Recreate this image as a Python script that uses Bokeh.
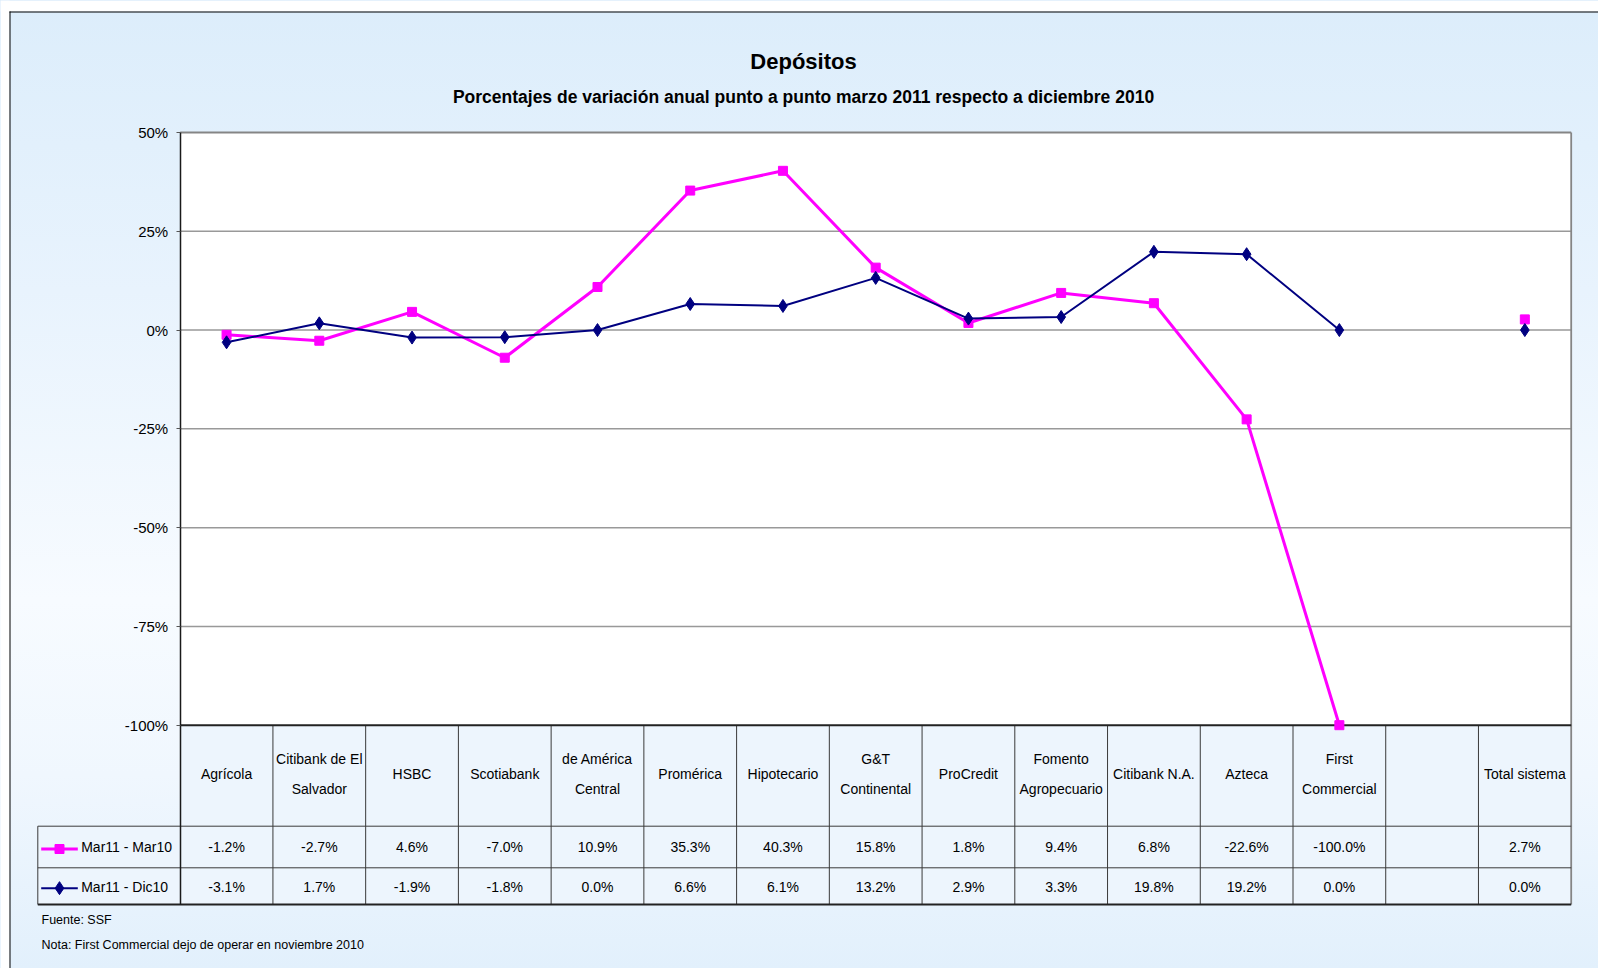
from bokeh.plotting import figure
from bokeh.models import Range1d, FixedTicker, PrintfTickFormatter, LinearAxis
from bokeh.core.properties import value
from bokeh.embed import file_html
from bokeh.resources import INLINE

# ---------------- data ----------------
categories = ["Agrícola", "Citibank de El\nSalvador", "HSBC", "Scotiabank", "de América\nCentral",
              "Promérica", "Hipotecario", "G&T\nContinental", "ProCredit", "Fomento\nAgropecuario",
              "Citibank N.A.", "Azteca", "First\nCommercial", "", "Total sistema"]
mar11_mar10 = [-1.2, -2.7, 4.6, -7.0, 10.9, 35.3, 40.3, 15.8, 1.8, 9.4, 6.8, -22.6, -100.0, None, 2.7]
mar11_dic10 = [-3.1, 1.7, -1.9, -1.8, 0.0, 6.6, 6.1, 13.2, 2.9, 3.3, 19.8, 19.2, 0.0, None, 0.0]
series_names = ["Mar11 - Mar10", "Mar11 - Dic10"]
y_ticks = [-100, -75, -50, -25, 0, 25, 50]

title_text = "Depósitos"
subtitle_text = "Porcentajes de variación anual punto a punto marzo 2011 respecto a diciembre 2010"
notes = ["Fuente: SSF", "Nota: First Commercial dejo de operar en noviembre 2010"]

# ---------------- layout (pixels) / style ----------------
FONT = "Liberation Sans"
PINK, NAVY = "#FF00FF", "#000080"
W, H = 1598, 968
X0, X1 = 179.7, 1570.7            # plot area left / right
Y_TOP, Y_BOT = 132.0, 724.7       # top tick / bottom tick
HEAD_B, ROW1_B, ROW2_B = 825.7, 867.3, 904.0
LEG_L = 37.3
BX, BY = 9.5, 11.5                # outer border

n = len(categories)
y_hi, y_lo = max(y_ticks), min(y_ticks)
pxc = (X1 - X0) / n
ppu = (Y_BOT - Y_TOP) / (y_hi - y_lo)


def dx(px):
    return (px - X0) / pxc - 0.5


def dy(py):
    return y_hi - (py - Y_TOP) / ppu


xs = list(range(n))
s1 = [float("nan") if v is None else v for v in mar11_mar10]
s2 = [float("nan") if v is None else v for v in mar11_dic10]
xl, xr = -0.5, n - 0.5

p = figure(width=W, height=H, output_backend="svg", toolbar_location=None,
           x_range=Range1d(dx(0), dx(W)), y_range=Range1d(dy(H), dy(0)),
           x_axis_location=None, y_axis_location=None, title=None,
           min_border=0, min_border_left=0, min_border_right=0,
           min_border_top=0, min_border_bottom=0,
           styles={"background": "linear-gradient(to bottom, #DCEDFB 0%, #E8F3FD 30%, #F7FBFF 62%, #F0F7FE 80%, #E2F0FC 100%)"})
p.border_fill_alpha = 0
p.background_fill_alpha = 0
p.outline_line_color = None
p.xgrid.visible = False
p.ygrid.visible = False

# page margin strips and outer border
p.quad(left=dx(0), right=dx(BX - 0.5), bottom=dy(H), top=dy(0), fill_color="white", line_color=None)
p.quad(left=dx(0), right=dx(W), bottom=dy(BY - 0.5), top=dy(0), fill_color="white", line_color=None)
p.segment(x0=[dx(BX), dx(BX - 0.5)], y0=[dy(BY - 0.5), dy(BY)], x1=[dx(BX), dx(W)], y1=[dy(H), dy(BY)],
          line_color="#000000", line_width=1)

# plot area and table backgrounds
p.quad(left=xl, right=xr, bottom=y_lo, top=y_hi, fill_color="white", line_color=None)
p.quad(left=xl, right=xr, bottom=dy(ROW2_B), top=y_lo, fill_color="#EDF5FD", line_color=None)
p.quad(left=dx(LEG_L), right=xl, bottom=dy(ROW2_B), top=dy(HEAD_B), fill_color="#EDF5FD", line_color=None)

# gridlines
grid_y = [t for t in y_ticks if t not in (y_lo, y_hi)]
p.segment(x0=[xl] * len(grid_y), y0=grid_y, x1=[xr] * len(grid_y), y1=grid_y,
          line_color="#999999", line_width=1.5)
p.segment(x0=[xl, xr], y0=[y_hi, y_hi], x1=[xr, xr], y1=[y_hi, dy(ROW2_B)],
          line_color="#858585", line_width=1.8)

# table grid
bounds = [i + 0.5 for i in range(n - 1)]
p.segment(x0=bounds, y0=[y_lo] * len(bounds), x1=bounds, y1=[dy(ROW2_B)] * len(bounds),
          line_color="#3A3A3A", line_width=1)
p.segment(x0=[dx(LEG_L)] * 3, y0=[dy(HEAD_B), dy(ROW1_B), dy(HEAD_B)],
          x1=[xr, xr, dx(LEG_L)], y1=[dy(HEAD_B), dy(ROW1_B), dy(ROW2_B)],
          line_color="#3A3A3A", line_width=1)
p.segment(x0=[xl, dx(LEG_L)], y0=[y_lo, dy(ROW2_B)], x1=[xr, xr], y1=[y_lo, dy(ROW2_B)],
          line_color="#222222", line_width=2)

# series
p.line(xs, s1, line_color=PINK, line_width=3)
p.scatter(xs, s1, marker="square", size=9, fill_color=PINK, line_color=PINK)
p.line(xs, s2, line_color=NAVY, line_width=2)
p.scatter(xs, s2, marker="diamond", size=13, fill_color=NAVY, line_color=NAVY)

# y axis at the plot area's left edge
yaxis = LinearAxis(fixed_location=xl, bounds=(dy(ROW2_B), y_hi),
                   ticker=FixedTicker(ticks=y_ticks), formatter=PrintfTickFormatter(format="%d%%"))
yaxis.major_label_text_font = FONT
yaxis.major_label_text_font_size = "15px"
yaxis.major_label_text_color = "#000000"
yaxis.axis_line_color = "#1A1A1A"
yaxis.axis_line_width = 1.5
yaxis.major_tick_out = 4
yaxis.major_tick_in = 0
yaxis.major_tick_line_color = "#555555"
yaxis.minor_tick_out = 0
yaxis.minor_tick_in = 0
yaxis.major_label_standoff = 8
p.add_layout(yaxis, "left")

# table texts
fmt = lambda v: "" if v is None else f"{v:.1f}%"
TS = "14px"
p.text(x=xs, y=[(y_lo + dy(HEAD_B)) / 2 + 1.5 / ppu] * n, text=categories, text_align="center",
       text_baseline="middle", text_font=value(FONT), text_font_size=TS,
       text_line_height=1.84, text_color="#000000")
row1_y = dy((HEAD_B + ROW1_B) / 2)
row2_y = dy((ROW1_B + ROW2_B) / 2 + 0.5)
p.text(x=xs, y=[row1_y] * n, text=[fmt(v) for v in mar11_mar10], text_align="center",
       text_baseline="middle", text_font=value(FONT), text_font_size=TS, text_color="#000000")
p.text(x=xs, y=[row2_y] * n, text=[fmt(v) for v in mar11_dic10], text_align="center",
       text_baseline="middle", text_font=value(FONT), text_font_size=TS, text_color="#000000")

# legend keys inside the table's first column
ly1, ly2 = dy((HEAD_B + ROW1_B) / 2 + 2.0), dy((ROW1_B + ROW2_B) / 2 + 2.0)
p.segment(x0=[dx(40.7)], y0=[ly1], x1=[dx(77.3)], y1=[ly1], line_color=PINK, line_width=3)
p.scatter([dx(59)], [ly1], marker="square", size=9, fill_color=PINK, line_color=PINK)
p.segment(x0=[dx(40.7)], y0=[ly2], x1=[dx(77.3)], y1=[ly2], line_color=NAVY, line_width=2)
p.scatter([dx(59)], [ly2], marker="diamond", size=13, fill_color=NAVY, line_color=NAVY)
p.text(x=[dx(80.7)] * 2, y=[row1_y, row2_y], text=series_names, text_align="left",
       text_baseline="middle", text_font=value(FONT), text_font_size=TS, text_color="#000000")

# titles
p.text(x=[dx(803)], y=[dy(61)], text=[title_text], text_align="center", text_baseline="middle",
       text_font=value(FONT), text_font_style="bold", text_font_size="22px", text_color="#000000")
p.text(x=[dx(803)], y=[dy(96.5)], text=[subtitle_text], text_align="center",
       text_baseline="middle", text_font=value(FONT), text_font_style="bold",
       text_font_size="17.5px", text_color="#000000")

# notes
p.text(x=[dx(41)] * 2, y=[dy(919), dy(944.5)], text=notes, text_align="left",
       text_baseline="middle", text_font=value(FONT), text_font_size="12.5px",
       text_color="#000000")

open("out.html", "w").write(file_html(p, INLINE))
